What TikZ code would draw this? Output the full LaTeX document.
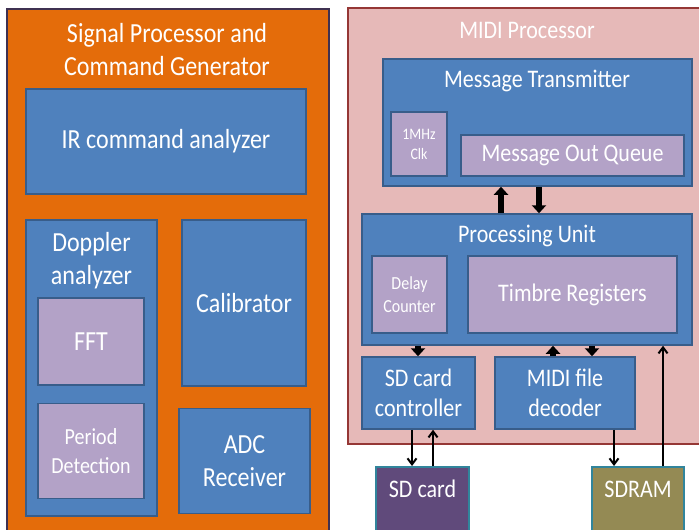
\documentclass[tikz,border=0pt]{standalone}
\usepackage{fontspec}
\setmainfont{Carlito}[FakeStretch=0.87]
\usetikzlibrary{arrows.meta}
\definecolor{sigorange}{HTML}{E46C0A}
\definecolor{sigedge}{HTML}{3F3151}
\definecolor{blkblue}{HTML}{4F81BD}
\definecolor{blkedge}{HTML}{385D8A}
\definecolor{subpurple}{HTML}{B3A2C7}
\definecolor{midipink}{HTML}{E6B9B8}
\definecolor{midiedge}{HTML}{953735}
\definecolor{sdfill}{HTML}{604A7B}
\definecolor{sdramfill}{HTML}{948A54}
\definecolor{extedge}{HTML}{31859C}
\tikzset{
  wh/.style 2 args={minimum width=#1, minimum height=#2},
  blk/.style={draw=blkedge, fill=blkblue, line width=1.5pt, text=white, align=center, inner sep=0pt},
  sub/.style={blk, fill=subpurple},
  lbl/.style={text=white, align=center, inner sep=0pt},
  big/.style={font=\fontsize{27.6}{33}\selectfont},
  mid/.style={font=\fontsize{25.3}{30}\selectfont},
  fatarrow/.style={line width=6pt, -{Triangle[width=14pt,length=8pt]}},
  wire/.style={line width=2pt, -{Straight Barb[width=9pt,length=6pt]}}
}
\begin{document}
\begin{tikzpicture}[x=1pt, y=-1pt]
    \useasboundingbox (0,0) rectangle (699,530);
    \clip (0,0) rectangle (699,530);
    %Signal processor
    \node[draw=sigedge, fill=sigorange, line width=2pt, wh={322pt}{531pt}] (sig) at (168,274.5) {};
    \node[lbl, big] (sigtitle) at (167,50) {Signal Processor and\\Command Generator};
    \node[blk, big, wh={280pt}{105pt}] (ir) at (166,141.5) {IR command analyzer};
    \node[blk, wh={131pt}{296pt}] (doppler) at (91.5,368) {};
    \node[lbl, big] (dopplertitle) at (91.5,261) {Doppler\\analyzer};
    \node[sub, big, wh={106pt}{87pt}] (fft) at (91,341.5) {FFT};
    \node[sub, font=\fontsize{23}{29}\selectfont, wh={106pt}{95pt}] (period) at (91,451) {Period\\Detection};
    \node[blk, big, wh={124pt}{166pt}] (calib) at (244,303) {Calibrator};
    \node[blk, big, wh={131pt}{105pt}] (adc) at (244.5,461) {ADC\\Receiver};
    %MIDI processor
    \node[draw=midiedge, fill=midipink, line width=2pt, wh={362pt}{436pt}] (midi) at (529,226) {};
    \node[lbl, mid] (midititle) at (527,30) {MIDI Processor};
    \node[blk, wh={309pt}{127pt}] (mt) at (537.5,122.5) {};
    \node[lbl, mid] (mttitle) at (537,81) {Message Transmitter};
    \node[sub, font=\fontsize{16}{20}\selectfont, wh={56pt}{64pt}] (clk) at (419,144) {1MHz\\Clk};
    \node[sub, mid, wh={223pt}{41pt}] (queue) at (572.5,155.5) {Message Out Queue};
    \node[blk, wh={330pt}{131pt}] (pu) at (527,279.5) {};
    \node[lbl, mid] (putitle) at (527,236) {Processing Unit};
    \node[sub, font=\fontsize{18.4}{23}\selectfont, wh={75pt}{77pt}] (delay) at (409.5,294.5) {Delay\\Counter};
    \node[sub, mid, wh={209pt}{77pt}] (timbre) at (572.5,294.5) {Timbre Registers};
    \node[blk, mid, wh={113pt}{72pt}] (sdc) at (418.5,393) {SD card\\controller};
    \node[blk, mid, wh={140pt}{72pt}] (dec) at (565,393) {MIDI file\\decoder};
    %External memories
    \node[draw=extedge, fill=sdfill, line width=2pt, wh={93pt}{73pt}] (sd) at (422.5,503.5) {};
    \node[lbl, mid] (sdtitle) at (422.5,489) {SD card};
    \node[draw=extedge, fill=sdramfill, line width=2pt, wh={92pt}{73pt}] (sdram) at (638,503.5) {};
    \node[lbl, mid] (sdramtitle) at (638,489) {SDRAM};
    %Arrows
    \coordinate (up1) at (501,0);
    \coordinate (dn1) at (539,0);
    \coordinate (dn2) at (418,0);
    \coordinate (up2) at (553,0);
    \coordinate (dn3) at (592,0);
    \coordinate (dn4) at (412,0);
    \coordinate (up3) at (433,0);
    \coordinate (dn5) at (614,0);
    \coordinate (up4) at (663,0);
    \draw[fatarrow] (pu.north -| up1) -- (mt.south -| up1);
    \draw[fatarrow] (mt.south -| dn1) -- (pu.north -| dn1);
    \draw[fatarrow] (pu.south -| dn2) -- (sdc.north -| dn2);
    \draw[fatarrow] (dec.north -| up2) -- (pu.south -| up2);
    \draw[fatarrow] (pu.south -| dn3) -- (dec.north -| dn3);
    \draw[wire] (sdc.south -| dn4) -- (sd.north -| dn4);
    \draw[wire] (sd.north -| up3) -- (sdc.south -| up3);
    \draw[wire] (dec.south -| dn5) -- (sdram.north -| dn5);
    \draw[wire] (sdram.north -| up4) -- (pu.south -| up4);
\end{tikzpicture}
\end{document}
